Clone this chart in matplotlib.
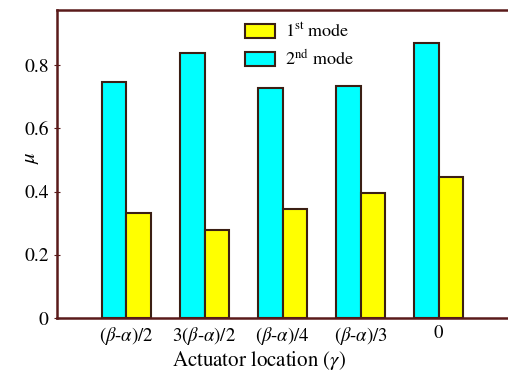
import numpy as np
import matplotlib
matplotlib.use("Agg")
import matplotlib.pyplot as plt

plt.rcParams['font.family'] = ['STIXGeneral', 'DejaVu Serif']
plt.rcParams['mathtext.fontset'] = 'stix'

# mode participation per actuator location
locations = [r'$(\beta$-$\alpha)/2$', r'$3(\beta$-$\alpha)/2$', r'$(\beta$-$\alpha)/4$',
             r'$(\beta$-$\alpha)/3$', '0']
mode1 = [0.332, 0.278, 0.345, 0.395, 0.446]
mode2 = [0.746, 0.838, 0.727, 0.734, 0.870]

EDGE = '#3b1f14'
FRAME = '#5a1a1a'

fig = plt.figure(figsize=(5.08, 3.72), dpi=100)
ax = fig.add_axes([0.1122, 0.1452, 0.888, 0.8279])

x = np.arange(len(locations))
w = 0.31
ax.bar(x - w / 2, mode2, w, color='#00ffff', edgecolor=EDGE, linewidth=1.5, label='2$^{\\rm nd}$ mode', zorder=2)
ax.bar(x + w / 2, mode1, w, color='#ffff00', edgecolor=EDGE, linewidth=1.5, label='1$^{\\rm st}$ mode', zorder=2)

ax.set_xlim(-0.89, 4.89)
ax.set_ylim(0, 0.974)
ax.set_xticks(x)
ax.set_xticklabels(locations, fontsize=13.5)
ax.set_yticks([0, 0.2, 0.4, 0.6, 0.8])
ax.set_yticklabels(['0', '0.2', '0.4', '0.6', '0.8'], fontsize=14)
ax.tick_params(axis='x', length=0, pad=5)
ax.tick_params(axis='y', direction='inout', length=4, color=FRAME, pad=4)

for side in ['left', 'top', 'bottom']:
    ax.spines[side].set_color(FRAME)
    ax.spines[side].set_linewidth(1.8)
ax.spines['right'].set_visible(False)

ax.set_ylabel(r'$\mu$', fontsize=15)
ax.yaxis.set_label_coords(-0.036, 0.52)
ax.set_xlabel(r'Actuator location ($\gamma$)', fontsize=15)
ax.xaxis.set_label_coords(0.448, -0.1)

handles, labels = ax.get_legend_handles_labels()
ax.legend(handles[::-1], labels[::-1], loc='upper left', bbox_to_anchor=(0.38, 1.01),
          frameon=False, fontsize=13, handlelength=1.7, handleheight=0.8,
          handletextpad=0.55, labelspacing=0.45)

fig.savefig('out.png', dpi=100)
